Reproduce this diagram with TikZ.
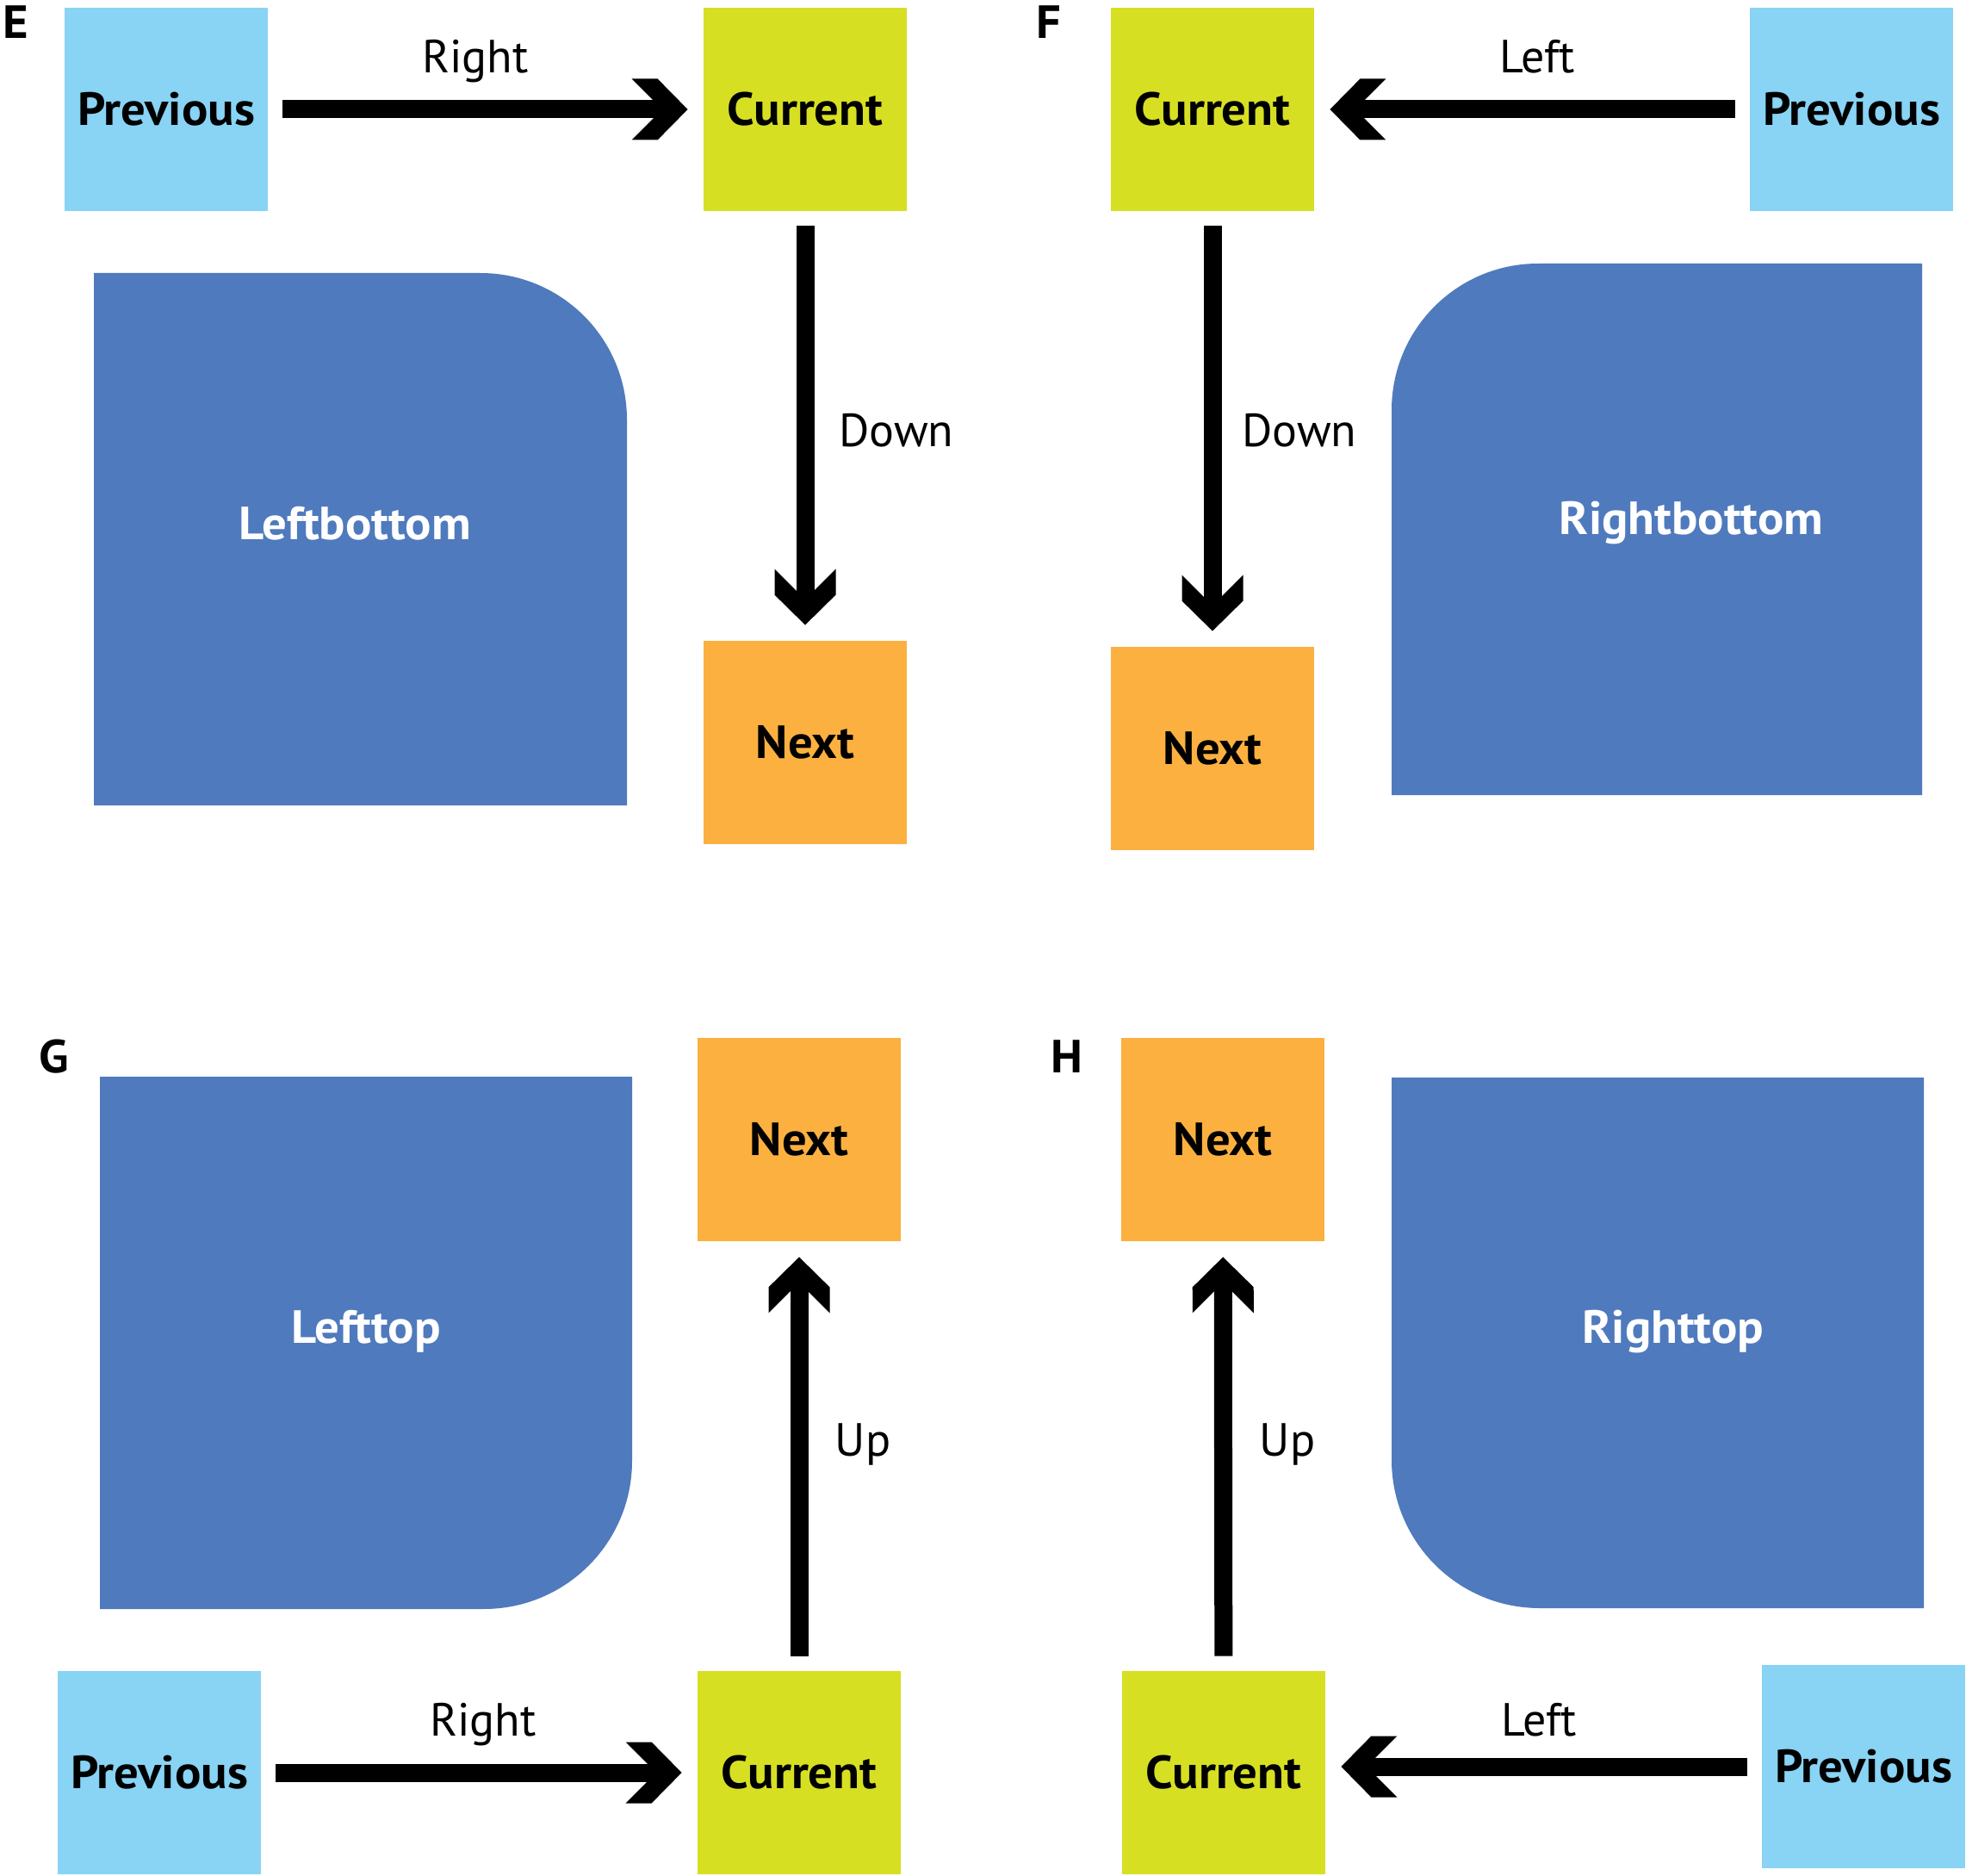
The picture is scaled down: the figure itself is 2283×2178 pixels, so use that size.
\documentclass[tikz,border=0pt]{standalone}
\usepackage{fontspec}
\setmainfont{PT Sans}[BoldFeatures={FakeStretch=1.05}]
\definecolor{prevc}{RGB}{137,211,244}
\definecolor{curc}{RGB}{215,223,35}
\definecolor{nextc}{RGB}{251,176,64}
\definecolor{bigc}{RGB}{79,122,189}
\pgfdeclarearrow{
  name = Chevron,
  setup code = {
    \pgfarrowssettipend{0pt}
    \pgfarrowssetlineend{-8pt}
    \pgfarrowssetvisualbackend{-32.5pt}
    \pgfarrowssetbackend{-32.5pt}
    \pgfarrowshullpoint{0pt}{0pt}
    \pgfarrowsupperhullpoint{-32.5pt}{17.75pt}
  },
  drawing code = {
    \pgfpathmoveto{\pgfqpoint{0pt}{0pt}}
    \pgfpathlineto{\pgfqpoint{-17.5pt}{17.75pt}}
    \pgfpathlineto{\pgfqpoint{-32.5pt}{17.75pt}}
    \pgfpathlineto{\pgfqpoint{-14.75pt}{0pt}}
    \pgfpathlineto{\pgfqpoint{-32.5pt}{-17.75pt}}
    \pgfpathlineto{\pgfqpoint{-17.5pt}{-17.75pt}}
    \pgfpathclose
    \pgfusepathqfill
  }
}
\tikzset{
  box/.style={minimum width=118pt, minimum height=118pt, inner sep=0pt,
    font=\fontsize{27}{32}\selectfont\bfseries, text height=18.9pt, text depth=0pt},
  prevbox/.style={box, fill=prevc},
  curbox/.style={box, fill=curc},
  nextbox/.style={box, fill=nextc},
  lbl/.style={font=\fontsize{27}{32}\selectfont, anchor=base, inner sep=0pt},
  biglbl/.style={font=\fontsize{27}{32}\selectfont\bfseries, text=white, anchor=base, inner sep=0pt},
  panel/.style={font=\fontsize{27}{32}\selectfont\bfseries, anchor=base west, inner sep=0pt},
  bigarr/.style={line width=10.5pt, -Chevron, shorten <=8.5pt, shorten >=9pt},
}
\begin{document}
\begin{tikzpicture}[x=0.5pt, y=-0.5pt]
\useasboundingbox (0,0) rectangle (2283,2178);

% big blue regions (one rounded corner each)
\fill[bigc] (109,935) -- (109,317) -- (558,317)
  .. controls (651.9,317) and (728,393.1) .. (728,487) -- (728,935) -- cycle;
\fill[bigc] (1616,923) -- (1616,476)
  .. controls (1616,382.1) and (1692.1,306) .. (1786,306) -- (2232,306) -- (2232,923) -- cycle;
\fill[bigc] (116,1250) -- (734,1250) -- (734,1696)
  .. controls (734,1791) and (657,1868) .. (562,1868) -- (116,1868) -- cycle;
\fill[bigc] (1616,1251) -- (2234,1251) -- (2234,1867) -- (1788,1867)
  .. controls (1693,1867) and (1616,1790) .. (1616,1695) -- cycle;

\node[biglbl] (lbT) at (412,626) {Leftbottom};
\node[biglbl] (rbT) at (1964,620) {Rightbottom};
\node[biglbl] (ltT) at (425,1559) {Lefttop};
\node[biglbl] (rtT) at (1943,1559) {Righttop};

% panel letters
\node[panel] (pE) at (3,45) {E};
\node[panel] (pF) at (1203,45) {F};
\node[panel] (pG) at (45,1245) {G};
\node[panel] (pH) at (1220,1245) {H};

% Panel E
\node[prevbox] (prevE) at (193,127) {Previous};
\node[curbox] (curE) at (935,127) {Current};
\node[nextbox] (nextE) at (935,862) {Next};
\draw[bigarr] (prevE) -- (curE);
\draw[bigarr] (curE) -- (nextE);
\node[lbl] (rE) at (552,85) {Right};
\node[lbl] (dE) at (1041,518) {Down};

% Panel F
\node[curbox] (curF) at (1408,127) {Current};
\node[prevbox] (prevF) at (2150,127) {Previous};
\node[nextbox] (nextF) at (1408,869) {Next};
\draw[bigarr] (prevF) -- (curF);
\draw[bigarr] (curF) -- (nextF);
\node[lbl] (lF) at (1785,85) {Left};
\node[lbl] (dF) at (1509,518) {Down};

% Panel G
\node[nextbox] (nextG) at (928,1323) {Next};
\node[prevbox] (prevG) at (185,2058) {Previous};
\node[curbox] (curG) at (928,2058) {Current};
\draw[bigarr] (prevG) -- (curG);
\draw[bigarr] (curG) -- (nextG);
\node[lbl] (rG) at (561,2015) {Right};
\node[lbl] (uG) at (1002,1690) {Up};

% Panel H
\node[nextbox] (nextH) at (1420,1323) {Next};
\node[curbox] (curH) at (1421,2058) {Current};
\node[prevbox] (prevH) at (2164,2051) {Previous};
\draw[bigarr] (prevH) -- (curH.east |- prevH);
\draw[bigarr] (curH) -- (nextH);
\node[lbl] (lH) at (1787,2015) {Left};
\node[lbl] (uH) at (1495,1690) {Up};
\end{tikzpicture}
\end{document}
